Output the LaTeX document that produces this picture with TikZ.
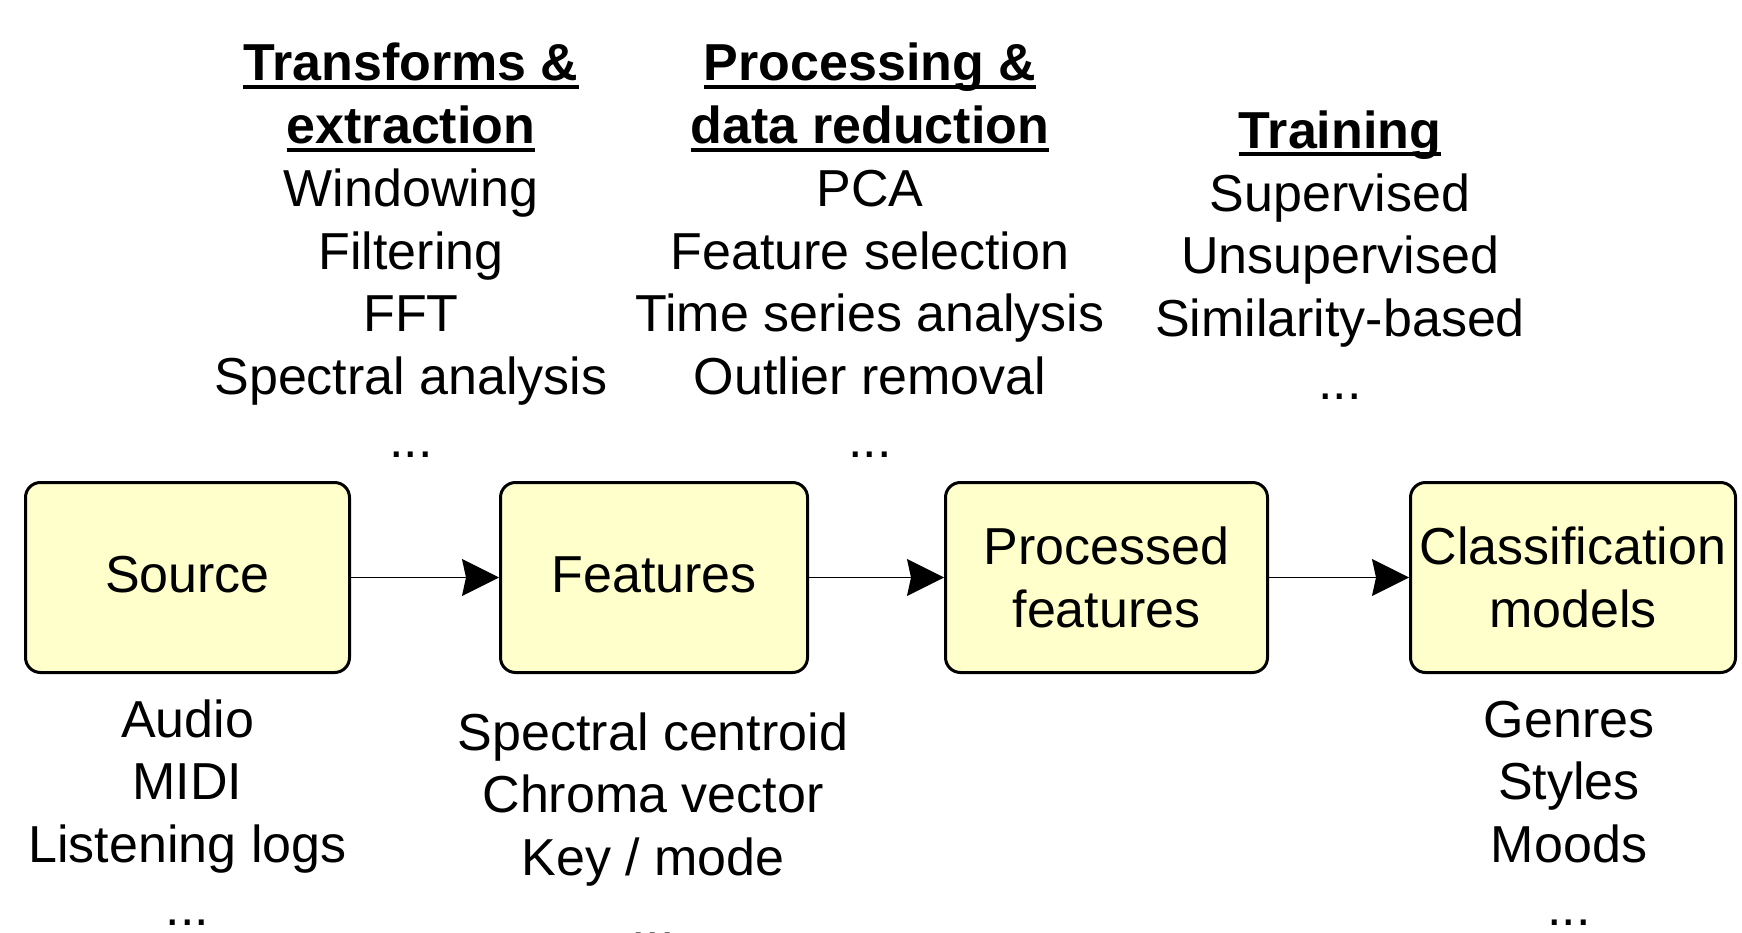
\documentclass[tikz,border=0pt]{standalone}
\usepackage{fontspec}
\setmainfont{Liberation Sans}
\usetikzlibrary{arrows.meta}

\definecolor{boxfill}{HTML}{FFFFCC}

\tikzset{
  txt/.style={anchor=base, inner sep=0pt, font=\fontsize{52}{62.7}\selectfont},
  head/.style={txt, font=\fontsize{52}{62.7}\selectfont\bfseries},
  uline/.style={line width=4pt},
  stage/.style={draw, line width=3pt, rounded corners=15pt, fill=boxfill,
    align=center, inner sep=0pt, font=\fontsize{52}{62.7}\selectfont},
  flow/.style={line width=1.4pt, -{Stealth[length=37pt, width=37pt, inset=4pt]}},
}

\begin{document}
\begin{tikzpicture}[x=1pt, y=-1pt]
\useasboundingbox (0,0) rectangle (1742,933);

% pipeline stages
\node[stage, minimum width=324pt, minimum height=190pt, text height=40pt, text depth=11pt]
  (src) at (187.5,577.5) {Source};
\node[stage, minimum width=307pt, minimum height=190pt, text height=40pt, text depth=11pt]
  (feat) at (654,577.5) {Features};
\node[stage, minimum width=322pt, minimum height=190pt]
  (proc) at (1106.5,577.5) {Processed\\features};
\node[stage, minimum width=325pt, minimum height=190pt]
  (cls) at (1573,577.5) {Classification\\models};

\draw[flow] (src.east) -- (feat.west);
\draw[flow] (feat.east) -- (proc.west);
\draw[flow] (proc.east) -- (cls.west);

% headings with underlines
\node[head] (h1a) at (411,81) {Transforms \&};
\node[head] (h1b) at (411,143.7) {extraction};
\node[head] (h2a) at (870,81) {Processing \&};
\node[head] (h2b) at (870,143.7) {data reduction};
\node[head] (h3a) at (1340,148.5) {Training};
\foreach \n in {h1a,h1b,h2a,h2b,h3a}
  \draw[uline] ([yshift=-6pt]\n.base west) -- ([yshift=-6pt]\n.base east);

% transforms & extraction
\node[txt] (t1) at (411,206.4) {Windowing};
\node[txt] (t2) at (411,269.1) {Filtering};
\node[txt] (t3) at (411,331.8) {FFT};
\node[txt] (t4) at (411,394.5) {Spectral analysis};
\node[txt] (t5) at (411,457.2) {...};

% processing & data reduction
\node[txt] (p1) at (870,206.4) {PCA};
\node[txt] (p2) at (870,269.1) {Feature selection};
\node[txt] (p3) at (870,331.8) {Time series analysis};
\node[txt] (p4) at (870,394.5) {Outlier removal};
\node[txt] (p5) at (870,457.2) {...};

% training
\node[txt] (r1) at (1340,211.2) {Supervised};
\node[txt] (r2) at (1340,273.9) {Unsupervised};
\node[txt] (r3) at (1340,336.6) {Similarity-based};
\node[txt] (r4) at (1340,399.3) {...};

% sources
\node[txt] (s1) at (187.5,737) {Audio};
\node[txt] (s2) at (187.5,799.7) {MIDI};
\node[txt] (s3) at (187.5,862.4) {Listening logs};
\node[txt] (s4) at (187.5,925.1) {...};

% features
\node[txt] (f1) at (653,750) {Spectral centroid};
\node[txt] (f2) at (653,812.7) {Chroma vector};
\node[txt] (f3) at (653,875.4) {Key / mode};
\node[txt] (f4) at (653,938.1) {...};

% classes
\node[txt] (c1) at (1569,737) {Genres};
\node[txt] (c2) at (1569,799.7) {Styles};
\node[txt] (c3) at (1569,862.4) {Moods};
\node[txt] (c4) at (1569,925.1) {...};
\end{tikzpicture}
\end{document}
